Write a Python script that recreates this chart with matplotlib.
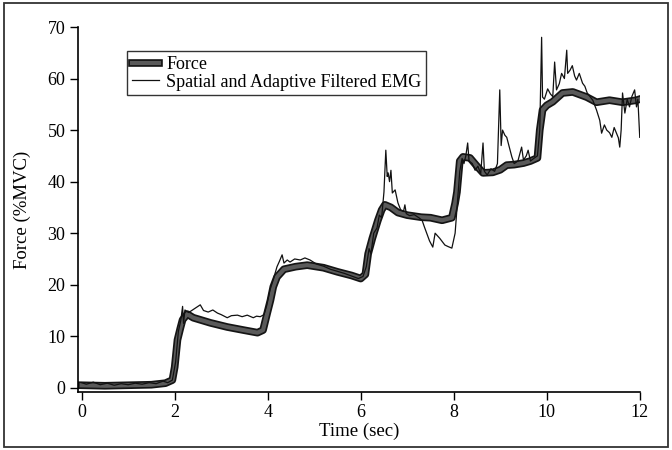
import numpy as np
import matplotlib
matplotlib.use("Agg")
import matplotlib.pyplot as plt
import matplotlib.patheffects as pe
from matplotlib.patches import Rectangle

# Values
force_t = [0, 0.5, 1.0, 1.5, 1.8, 1.95, 2.0, 2.06, 2.12, 2.17, 2.27, 2.4, 2.77,
           3.13, 3.48, 3.78, 3.9, 3.99, 4.06, 4.12, 4.2, 4.35, 4.6, 4.85, 5.2,
           5.5, 5.8, 6.0, 6.1, 6.16, 6.25, 6.37, 6.45, 6.52, 6.65, 6.8, 7.0,
           7.3, 7.5, 7.75, 7.96, 8.03, 8.07, 8.13, 8.2, 8.35, 8.5, 8.63, 8.84,
           9.0, 9.14, 9.3, 9.5, 9.65, 9.8, 9.85, 9.91, 10.0, 10.13, 10.34,
           10.56, 10.86, 11.07, 11.35, 11.63, 11.93, 12.0]
force_v = [0.5, 0.4, 0.5, 0.6, 0.9, 1.5, 4, 9.3, 11.5, 13.2, 14.3, 13.6, 12.6,
           11.8, 11.2, 10.7, 11.2, 14.5, 17, 19.6, 21.5, 23, 23.5, 23.8, 23.3,
           22.5, 21.8, 21.2, 22, 26, 29, 32.5, 34.5, 35.5, 35, 34, 33.5,
           33.1, 33, 32.5, 33, 35.8, 38, 44, 44.8, 44.6, 43, 41.7, 41.8,
           42.3, 43.2, 43.3, 43.6, 44, 44.6, 50, 53.9, 54.8, 55.5, 57.2,
           57.4, 56.4, 55.4, 55.8, 55.4, 55.8, 56]

emg_t = [0, 0.1, 0.25, 0.4, 0.55, 0.7, 0.85, 1.0, 1.15, 1.3, 1.45, 1.6, 1.75,
         1.85, 1.95, 2.02, 2.08, 2.13, 2.17, 2.19, 2.22, 2.3, 2.4, 2.55, 2.62,
         2.72, 2.82, 2.92, 3.0, 3.13, 3.22, 3.35, 3.45, 3.56, 3.69, 3.76, 3.84,
         3.92, 3.98, 4.05, 4.12, 4.2, 4.25, 4.31, 4.35, 4.42, 4.48, 4.58, 4.7,
         4.8, 4.91, 4.98, 5.05, 5.2, 5.35, 5.5, 5.65, 5.8, 5.95, 6.05, 6.12,
         6.18, 6.22, 6.28, 6.35, 6.4, 6.45, 6.5, 6.54, 6.57, 6.59, 6.62, 6.65,
         6.68, 6.74, 6.8, 6.86, 6.92, 6.95, 6.98, 7.05, 7.15, 7.25, 7.32, 7.37,
         7.42, 7.48, 7.55, 7.6, 7.65, 7.7, 7.76, 7.81, 7.88, 7.96, 8.03, 8.08,
         8.13, 8.18, 8.22, 8.26, 8.3, 8.33, 8.4, 8.46, 8.52, 8.58, 8.63, 8.66,
         8.72, 8.8, 8.88, 8.94, 8.99, 9.02, 9.05, 9.1, 9.14, 9.2, 9.25, 9.3,
         9.38, 9.46, 9.5, 9.56, 9.6, 9.65, 9.72, 9.8, 9.85, 9.89, 9.91, 9.95,
         10.02, 10.08, 10.13, 10.17, 10.21, 10.27, 10.32, 10.38, 10.43, 10.45,
         10.5, 10.55, 10.6, 10.64, 10.7, 10.77, 10.82, 10.87, 10.93, 10.99,
         11.07, 11.14, 11.18, 11.24, 11.29, 11.35, 11.4, 11.45, 11.5, 11.54,
         11.57, 11.6, 11.63, 11.68, 11.73, 11.78, 11.83, 11.89, 11.93, 11.96,
         12.0]
emg_v = [1.0, 0.7, 1.1, 0.6, 0.9, 0.5, 0.8, 0.6, 0.9, 0.7, 1.0, 0.8, 1.3,
         1.0, 1.5, 5, 11, 13, 15.8, 12.5, 15.1, 14.6, 15.2, 16.1, 15.0,
         14.7, 15.1, 14.5, 14.2, 13.6, 14.0, 14.1, 13.8, 14.1, 13.6, 13.9, 13.8,
         14.2, 16, 19, 21, 23.5, 24.5, 25.8, 24.2, 24.8, 24.4, 25.0, 24.8,
         25.2, 24.8, 24.4, 24.0, 23.6, 23.0, 22.6, 22.2, 21.7, 21.2, 21.6, 23.5,
         27, 26, 30, 31, 33.5, 33, 38, 46.1, 41, 41.7, 40, 42.2,
         37.8, 38.4, 35.9, 34.5, 34.2, 35.5, 33.8, 33.4, 33.6, 33.0, 32.5, 31.2,
         30.0, 28.5, 27.3, 30.0, 29.5, 29.0, 28.3, 27.7, 27.4, 27.1, 30.0, 36,
         42, 44.5, 43.5, 45, 47.5, 44, 43.5, 42.2, 43, 41.5, 47.5, 42,
         41.3, 42.5, 42.0, 43.5, 57.8, 47, 50, 49, 48.6, 46.5, 44.8, 43.5,
         44, 46.7, 44.2, 45, 46.1, 44, 44.5, 45, 50, 68, 56.4, 56,
         58, 57, 56.5, 63.2, 57.8, 59, 61, 60, 65.5, 61,
         61.6, 62.5, 60.5, 59.7, 61, 59.1, 58.5, 57.2, 56.5, 55.8,
         53.9, 51.9, 49.4, 51, 50, 49.5, 48.6, 50.5, 49.4, 48.5,
         46.7, 50, 57.2, 53.3, 56, 54.5, 56.5, 57.8, 54.5, 56,
         48.6]

x_ticks = [0, 2, 4, 6, 8, 10, 12]
y_ticks = [0, 10, 20, 30, 40, 50, 60, 70]

plt.rcParams['font.family'] = ['Liberation Serif', 'DejaVu Serif']

fig = plt.figure(figsize=(6.72, 4.5), dpi=100)
ax = fig.add_axes([0.116, 0.129, 0.836, 0.811])

# thick grey force trace with dark outline
ax.plot(force_t, force_v, color='#5a5a5a', lw=3.0, label='Force',
        path_effects=[pe.Stroke(linewidth=5.5, foreground='#151515'), pe.Normal()])
ax.plot(emg_t, emg_v, color='#111111', lw=0.9,
        label='Spatial and Adaptive Filtered EMG')

ax.set_xlim(-0.08, 12.0)
ax.set_ylim(-0.8, 70)
ax.set_xticks(x_ticks)
ax.set_yticks(y_ticks)
ax.tick_params(direction='out', length=6, width=1, labelsize=13, pad=3)
for s in ['top', 'right']:
    ax.spines[s].set_visible(False)
for s in ['left', 'bottom']:
    ax.spines[s].set_linewidth(1.2)

ax.set_xlabel('Time (sec)', fontsize=13.5, labelpad=1)
ax.set_ylabel('Force (%MVC)', fontsize=13.5, labelpad=12)

leg = ax.legend(loc='upper left', bbox_to_anchor=(0.072, 0.958), fontsize=13,
                frameon=True, fancybox=False, handlelength=1.5,
                handletextpad=0.4, borderpad=0.25, labelspacing=0.05)
leg.get_frame().set_edgecolor('black')
leg.get_frame().set_linewidth(1.0)

# border around the scanned figure
fig.patches.append(Rectangle((0.006, 0.006), 0.988, 0.988, transform=fig.transFigure,
                             fill=False, edgecolor='#333333', lw=1.3))

fig.savefig('out.png', dpi=100)
